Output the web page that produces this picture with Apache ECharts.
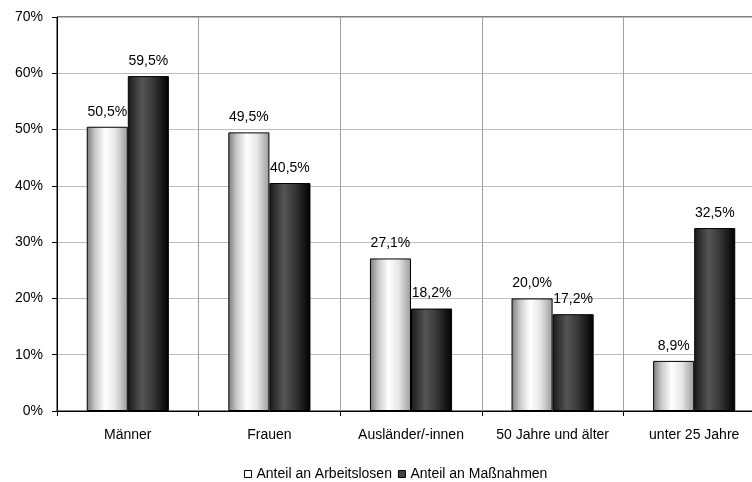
<!DOCTYPE html>
<html>
<head>
<meta charset="utf-8">
<script src="https://cdn.jsdelivr.net/npm/echarts@6/dist/echarts.min.js"></script>
<style>html,body{margin:0;padding:0;background:#fff}#c{width:752px;height:482px}</style>
</head>
<body>
<div id="c"></div>
<script>
const categories = ['Männer', 'Frauen', 'Ausländer/-innen', '50 Jahre und älter', 'unter 25 Jahre'];
const arbeitslose = [50.5, 49.5, 27.1, 20.0, 8.9];
const massnahmen = [59.5, 40.5, 18.2, 17.2, 32.5];
const seriesNames = ['Anteil an Arbeitslosen', 'Anteil an Maßnahmen'];

const font = 'Liberation Sans, Arial, sans-serif';
const lightGrad = {type:'linear', x:0, y:0, x2:1, y2:0, colorStops:[
  {offset:0, color:'#7a7a7a'}, {offset:0.2, color:'#c8c8c8'}, {offset:0.45, color:'#ffffff'},
  {offset:0.7, color:'#e6e6e6'}, {offset:1, color:'#9a9a9a'}]};
const darkGrad = {type:'linear', x:0, y:0, x2:1, y2:0, colorStops:[
  {offset:0, color:'#1a1a1a'}, {offset:0.35, color:'#555555'}, {offset:0.6, color:'#3a3a3a'},
  {offset:1, color:'#000000'}]};
const fmt = p => p.value.toFixed(1).replace('.', ',') + '%';

const chart = echarts.init(document.getElementById('c'));
chart.setOption({
  animation: false,
  textStyle: {fontFamily: font},
  grid: {left: 57, right: -13, top: 17, bottom: 71, outerBoundsMode: 'none', containLabel: false,
         show: true, borderColor: '#000', borderWidth: 1, backgroundColor: 'transparent'},
  legend: {
    left: 239, top: 462, itemWidth: 7, itemHeight: 7, itemGap: 6, icon: 'rect',
    textStyle: {fontFamily: font, fontSize: 14, color: '#000'},
    data: [
      {name: seriesNames[0], itemStyle: {color: '#fff', borderColor: '#000', borderWidth: 1}},
      {name: seriesNames[1], itemStyle: {color: '#444', borderColor: '#000', borderWidth: 1}}
    ]
  },
  xAxis: {
    type: 'category', data: categories,
    axisLine: {lineStyle: {color: '#000'}},
    axisTick: {show: true, length: 5, lineStyle: {color: '#000'}},
    splitLine: {show: true, lineStyle: {color: '#a0a0a0'}},
    axisLabel: {color: '#000', fontSize: 14, margin: 17, interval: 0, hideOverlap: false, fontFamily: font}
  },
  yAxis: {
    type: 'value', min: 0, max: 70, interval: 10,
    axisLine: {show: true, lineStyle: {color: '#000'}},
    axisTick: {show: true, length: 5, lineStyle: {color: '#000'}},
    splitLine: {show: true, lineStyle: {color: '#bdbdbd'}},
    axisLabel: {color: '#000', fontSize: 14, margin: 14, formatter: '{value}%', fontFamily: font}
  },
  series: [
    {name: seriesNames[0], type: 'bar', data: arbeitslose, barGap: '0%', barCategoryGap: '42%',
     itemStyle: {color: lightGrad, borderColor: '#000', borderWidth: 1},
     label: {show: true, position: 'top', distance: 8, color: '#000', fontSize: 14, fontFamily: font, formatter: fmt}},
    {name: seriesNames[1], type: 'bar', data: massnahmen, barGap: '0%', barCategoryGap: '42%',
     itemStyle: {color: darkGrad, borderColor: '#000', borderWidth: 1},
     label: {show: true, position: 'top', distance: 8, color: '#000', fontSize: 14, fontFamily: font, formatter: fmt}}
  ]
});
</script>
</body>
</html>
